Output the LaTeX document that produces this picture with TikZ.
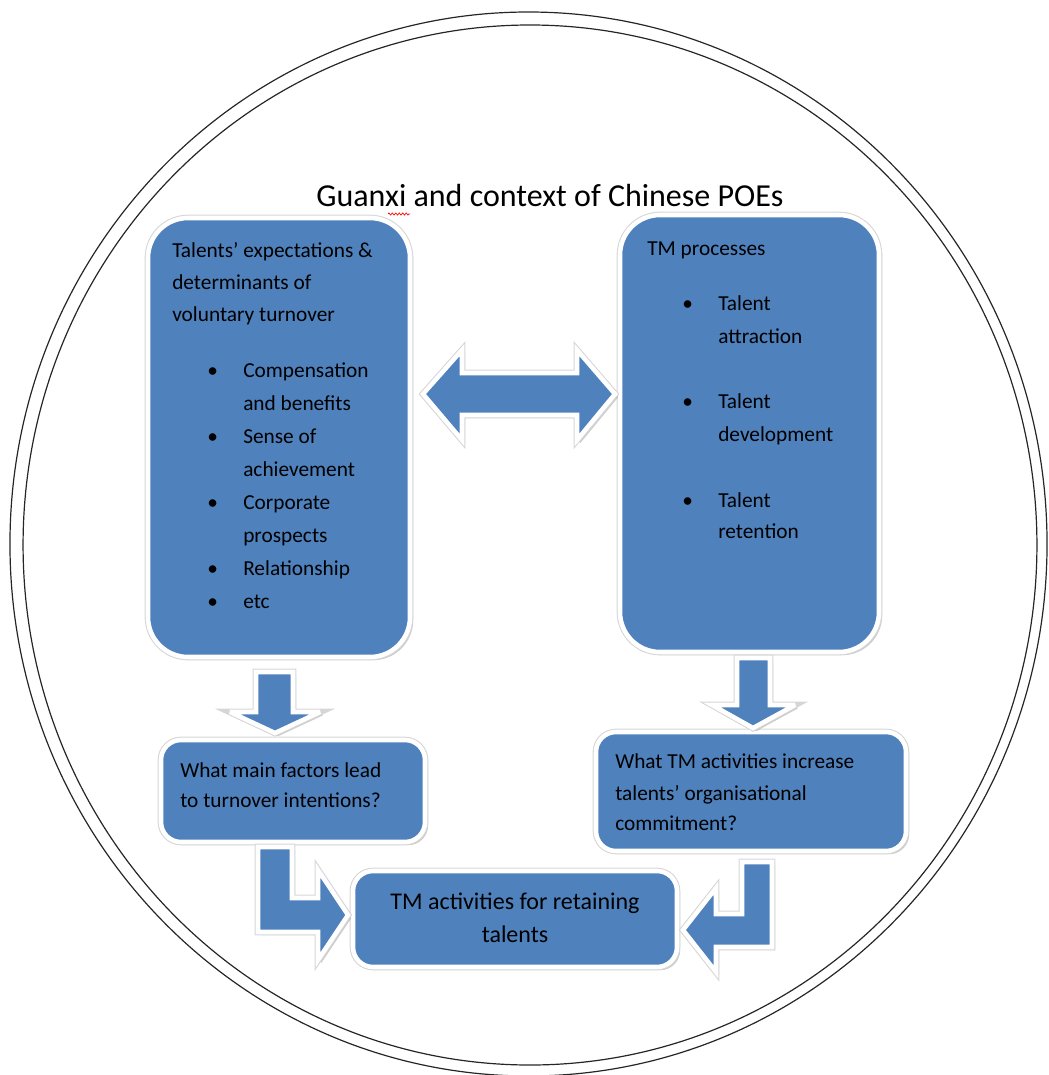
\documentclass[tikz,border=0pt]{standalone}
\usepackage{fontspec}
\setmainfont{Carlito}
\usetikzlibrary{shadows,fit,decorations.pathmorphing}
\definecolor{boxblue}{HTML}{4F81BD}
\begin{document}
\begin{tikzpicture}[x=0.75pt,y=-0.75pt,
  blk/.style={fill=boxblue, draw=white, line width=3.4pt,
     drop shadow={shadow xshift=2.4pt, shadow yshift=-2.4pt, opacity=0.4, fill=black!50},
     preaction={draw=black!16, line width=5pt}},
  bigbox/.style={blk, rounded corners=30pt, inner sep=0pt, outer sep=0pt},
  smallbox/.style={blk, rounded corners=15pt, inner sep=0pt, outer sep=0pt},
  arrowshape/.style={blk, line join=miter, miter limit=4},
  txt/.style={anchor=base west, inner sep=0pt, font=\fontsize{16}{20}\selectfont, text=black},
  ctxt/.style={anchor=base, inner sep=0pt, font=\fontsize{18}{22}\selectfont, text=black},
  ring/.style={draw=black!85, line width=0.9pt}
]
\useasboundingbox (0,0) rectangle (1049,1075);
% double circle
\draw[ring] (528.5,544) ellipse [x radius=388.9pt, y radius=399pt];
\draw[ring] (530,545) ellipse [x radius=380.2pt, y radius=390pt];

% title
\node[anchor=base, inner sep=0pt, font=\fontsize{24}{28}\selectfont] (title) at (550,206) {Guanxi and context of Chinese POEs};
\draw[red, line width=0.5pt, decorate, decoration={zigzag, amplitude=0.8pt, segment length=2.6pt}] (388,214) -- (410,214);

% boxes
\node[bigbox, fit={(148,218) (410,657)}] (L) {};
\node[bigbox, fit={(620,215) (879,652)}] (R) {};
\node[smallbox, fit={(161,740) (425,842)}] (QL) {};
\node[smallbox, fit={(596,732) (906,851)}] (QR) {};
\node[smallbox, fit={(353,871) (677,967)}] (B) {};

% block arrows
\draw[arrowshape] (423,394) -- (462,350) -- (462,373) -- (577,373) -- (577,350) -- (615,394)
  -- (577,440) -- (577,415) -- (462,415) -- (462,440) -- cycle;
\draw[arrowshape] (256,672) -- (293,672) -- (293,712) -- (320,712) -- (275,733) -- (230,712) -- (256,712) -- cycle;
\draw[arrowshape] (737,658) -- (770,658) -- (770,705) -- (795,705) -- (753,728) -- (712,705) -- (737,705) -- cycle;
\draw[arrowshape] (258,847) -- (292,847) -- (292,898) -- (318,898) -- (318,870) -- (348,915)
  -- (318,960) -- (318,932) -- (258,932) -- cycle;
\draw[arrowshape] (742,862) -- (772,862) -- (772,947) -- (716,947) -- (716,972) -- (683,930)
  -- (716,888) -- (716,914) -- (742,914) -- cycle;

% left big box text
\node[txt] (l1) at (172,257) {Talents’ expectations \&};
\node[txt] (l2) at (172,289) {determinants of};
\node[txt] (l3) at (172,321) {voluntary turnover};
\foreach \y/\t/\b in {377/Compensation/1, 410/and benefits/0, 443/Sense of/1, 476/achievement/0,
    509/Corporate/1, 542/prospects/0, 575/Relationship/1, 608/etc/1}{
  \node[txt] at (243,\y) {\t};
  \ifnum\b=1 \node[txt] at (207,\y) {•}; \fi
}

% right big box text
\node[txt] (r1) at (647,255) {TM processes};
\foreach \y/\t/\b in {310/Talent/1, 343/attraction/0, 408/Talent/1, 441/development/0,
    507/Talent/1, 538/retention/0}{
  \node[txt] at (718,\y) {\t};
  \ifnum\b=1 \node[txt] at (682,\y) {•}; \fi
}

% question boxes
\node[txt] (ql1) at (180,777) {What main factors lead};
\node[txt] (ql2) at (180,807) {to turnover intentions?};
\node[txt] (qr1) at (615,768) {What TM activities increase};
\node[txt] (qr2) at (615,800) {talents’ organisational};
\node[txt] (qr3) at (615,830) {commitment?};

% bottom box
\node[ctxt] (b1) at (515,909) {TM activities for retaining};
\node[ctxt] (b2) at (515,942) {talents};
\end{tikzpicture}
\end{document}
